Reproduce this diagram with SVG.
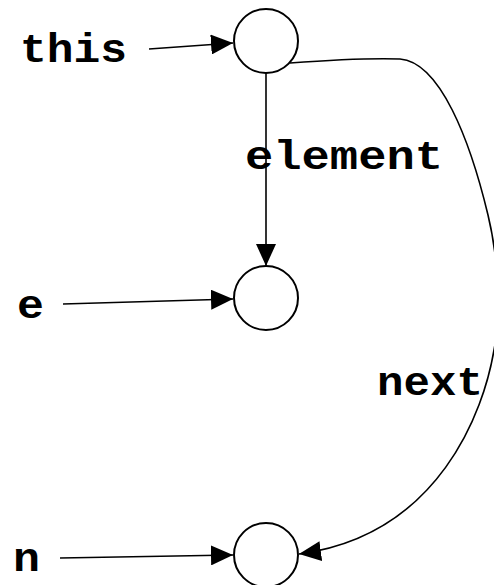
<svg xmlns="http://www.w3.org/2000/svg" width="494" height="585" viewBox="0 0 494 585">
<style>
.node{fill:#fff;stroke:#000;stroke-width:2}
.lbl{font-family:"Liberation Mono","DejaVu Sans Mono",monospace;font-weight:bold;font-size:40px;fill:#000}
.edge{fill:none;stroke:#000;stroke-width:1.6}
</style>
<defs>
<marker id="ah" markerUnits="userSpaceOnUse" markerWidth="22" markerHeight="20" refX="22" refY="10" orient="auto">
<path d="M0,0 L22,10 L0,20 Z" fill="#000"/>
</marker>
</defs>
<rect width="494" height="585" fill="#fff"/>
<g id="edges">
<path class="edge" d="M149,49 L233,43" marker-end="url(#ah)"/>
<path class="edge" d="M63,304 L233,299" marker-end="url(#ah)"/>
<path class="edge" d="M60,558 L233,555" marker-end="url(#ah)"/>
<path class="edge" d="M266,73 L266,266" marker-end="url(#ah)"/>
<path class="edge" d="M290,63 C330,60 370,58 400,59 C440,62 470,140 488,215 C500,265 500,320 494,350 C484,410 440,535 299,554" marker-end="url(#ah)"/>
</g>
<g id="node-this"><circle class="node" cx="266" cy="41" r="32"/></g>
<g id="node-e"><circle class="node" cx="266" cy="298" r="32"/></g>
<g id="node-n"><circle class="node" cx="266" cy="555" r="32"/></g>
<g id="labels">
<text class="lbl" x="20" y="62" textLength="107" lengthAdjust="spacingAndGlyphs">this</text>
<text class="lbl" x="245" y="169" textLength="198" lengthAdjust="spacingAndGlyphs">element</text>
<text class="lbl" x="17" y="318" textLength="27" lengthAdjust="spacingAndGlyphs">e</text>
<text class="lbl" x="377" y="395" textLength="106" lengthAdjust="spacingAndGlyphs">next</text>
<text class="lbl" x="13" y="571" textLength="27" lengthAdjust="spacingAndGlyphs">n</text>
</g>
</svg>
